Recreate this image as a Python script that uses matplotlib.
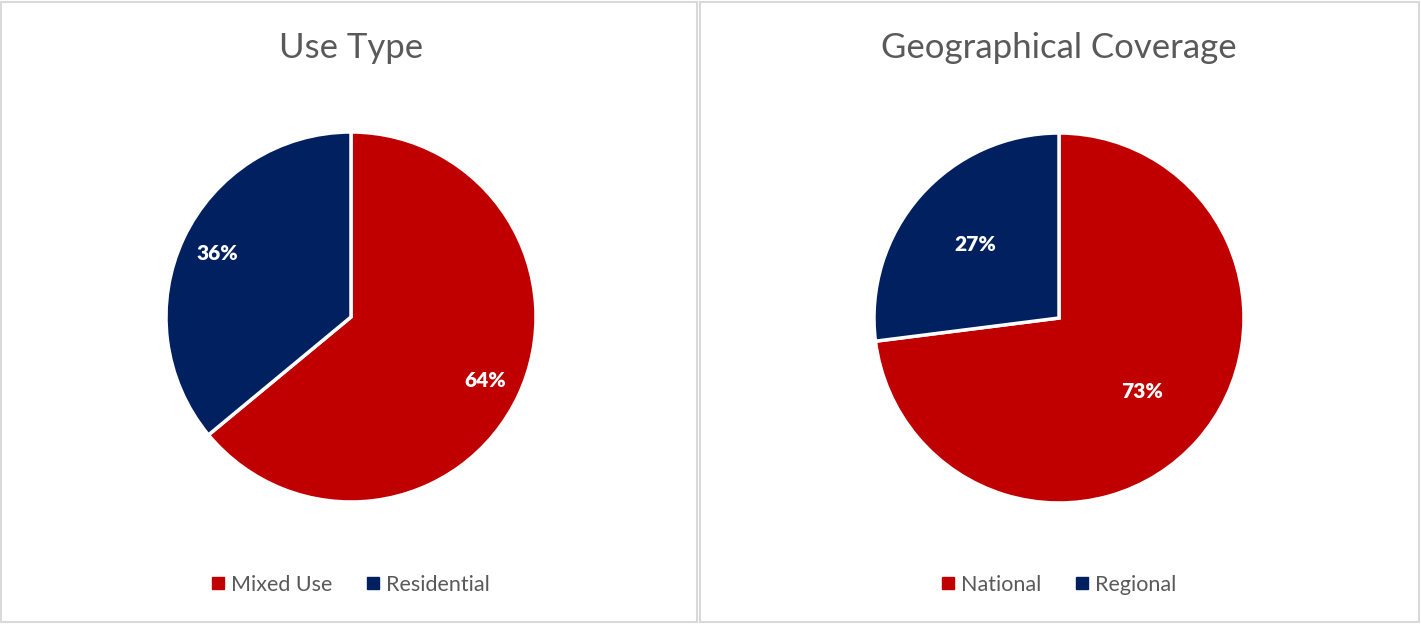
import matplotlib.pyplot as plt
from matplotlib.patches import Rectangle
from matplotlib.lines import Line2D

# Data
use_labels = ['Mixed Use', 'Residential']
use_values = [64, 36]
geo_labels = ['National', 'Regional']
geo_values = [73, 27]

red = '#C00000'
navy = '#002060'
grey_text = '#595959'

plt.rcParams['font.family'] = ['Lato', 'DejaVu Sans']

W, H = 1421, 625
fig = plt.figure(figsize=(W / 100, H / 100), dpi=100)
fig.patch.set_facecolor('white')

# panel borders
for x0, x1 in [(1, 697), (700, 1419)]:
    fig.add_artist(Rectangle((x0 / W, 3 / H), (x1 - x0) / W, (H - 5) / H,
                             transform=fig.transFigure, fill=False,
                             edgecolor='#D9D9D9', linewidth=1.5))

panels = [
    ('Use Type', use_labels, use_values, 351, 317, 0.80),
    ('Geographical Coverage', geo_labels, geo_values, 1059, 318, 0.60),
]

r = 185
for title, labels, values, cx, cy, pct_d in panels:
    ax = fig.add_axes([(cx - r) / W, (H - cy - r) / H, 2 * r / W, 2 * r / H])
    wedges, _, autotexts = ax.pie(
        values, colors=[red, navy], startangle=90, counterclock=False,
        autopct='%1.0f%%', pctdistance=pct_d, radius=1,
        wedgeprops=dict(edgecolor='white', linewidth=2.5))
    for t in autotexts:
        t.set_color('white')
        t.set_fontsize(15)
        t.set_fontweight('heavy')
    ax.set_xlim(-1, 1)
    ax.set_ylim(-1, 1)
    ax.set_aspect('equal')
    ax.axis('off')

    fig.text(cx / W, 1 - 48 / H, title, ha='center', va='center',
             fontsize=25, color=grey_text)

    handles = [Line2D([], [], marker='s', linestyle='none', markersize=8,
                      markerfacecolor=c, markeredgecolor=c) for c in [red, navy]]
    fig.legend(handles, labels, loc='center', bbox_to_anchor=(cx / W, 1 - 585 / H),
               ncol=2, frameon=False, fontsize=15.5, labelcolor=grey_text,
               handlelength=0.6, handletextpad=0.3, columnspacing=1.6)

plt.savefig('out.png', dpi=100, facecolor='white')
